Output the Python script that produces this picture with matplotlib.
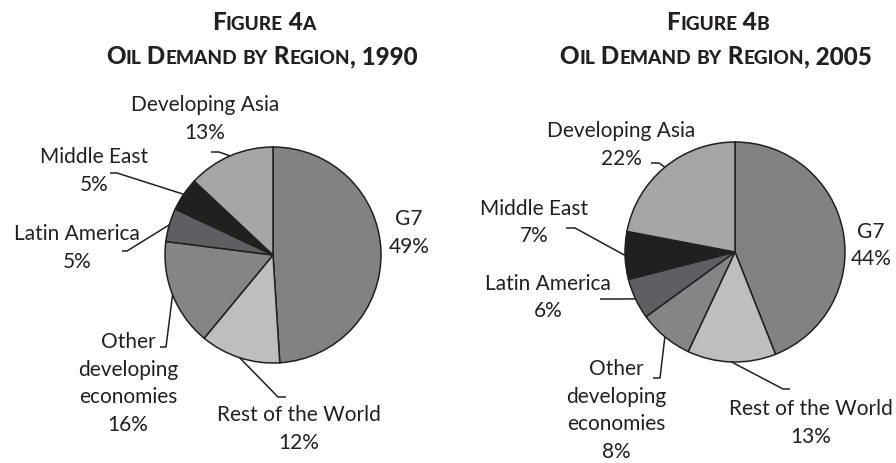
import matplotlib
matplotlib.use("Agg")
import matplotlib.pyplot as plt
import numpy as np
from matplotlib.transforms import IdentityTransform

W, H = 896, 463
DPI = 100

# ---------------- data ----------------
categories = ["G7", "Rest of the World", "Other developing economies",
              "Latin America", "Middle East", "Developing Asia"]
label_names = ["G7", "Rest of the World", "Other\ndeveloping\neconomies",
               "Latin America", "Middle East", "Developing Asia"]
share_1990 = [49, 12, 16, 5, 5, 13]
share_2005 = [44, 13, 8, 6, 7, 22]
titles = [("Figure 4a", "Oil Demand by Region, 1990"),
          ("Figure 4b", "Oil Demand by Region, 2005")]

# ---------------- style / layout ----------------
colors = ["#818284", "#bdbec0", "#848587", "#5e5f62", "#221f1f", "#a5a6a8"]
INK = "#231f20"
LABEL_FONT = ["Lato", "DejaVu Sans"]
TITLE_FONT = ["Lato", "DejaVu Sans"]
LABEL_SIZE = 15
TITLE_SIZE = 17.5

# pixel layout (y measured downward from top of the image)
pies = [
    dict(values=share_1990, center=(273, 255), radius=108, title_x=262,
         labels=[(409, 233), (299, 429), (128, 383.5), (77, 248), (94, 171), (205, 119)],
         leaders=[None,
                  [(278, 397), (286, 397)],
                  [(166, 347), (160, 347)],
                  [(127, 251), (122, 251)],
                  [(117, 173), (110, 173)],
                  [(219, 152), (211, 152)]]),
    dict(values=share_2005, center=(735, 252), radius=110, title_x=716,
         labels=[(871, 245.5), (811, 423), (616, 410.5), (548, 297.5), (534, 222.5), (621, 145)],
         leaders=[None,
                  [(783, 389), (790, 389)],
                  [(660, 378), (653, 378)],
                  [(620, 299), (600, 299)],
                  [(575, 228), (566, 228)],
                  [(659, 163), (651, 163)]]),
]

fig = plt.figure(figsize=(W / DPI, H / DPI), dpi=DPI)
ax = fig.add_axes([0, 0, 1, 1])
renderer = fig.canvas.get_renderer()


def measure(s, size, **kw):
    t = fig.text(0, 0, "|" + s + "|", fontsize=size, transform=IdentityTransform(), **kw)
    t2 = fig.text(0, 0, "||", fontsize=size, transform=IdentityTransform(), **kw)
    w = t.get_window_extent(renderer).width - t2.get_window_extent(renderer).width
    t.remove(); t2.remove()
    return w


def smallcaps(text, xc, y_base_px, size, ratio=0.78, **kw):
    runs = []
    for ch in text:
        small = ch.islower()
        if runs and runs[-1][1] == small:
            runs[-1][0] += ch.upper()
        else:
            runs.append([ch.upper(), small])
    sizes = [size * (ratio if sm else 1.0) for _, sm in runs]
    widths = [measure(s, sz, **kw) for (s, _), sz in zip(runs, sizes)]
    x = xc - sum(widths) / 2.0
    y = H - y_base_px
    for (s, _), sz, w in zip(runs, sizes, widths):
        fig.text(x, y, s, fontsize=sz, transform=IdentityTransform(),
                 ha="left", va="baseline", **kw)
        x += w


for p, (t1, t2) in zip(pies, titles):
    cx, cy = p["center"]
    wedges, _ = ax.pie(p["values"], colors=colors, startangle=90, counterclock=False,
                       center=(cx, H - cy), radius=p["radius"], frame=True,
                       wedgeprops=dict(edgecolor=INK, linewidth=1.1))
    for i, (w, name, val) in enumerate(zip(wedges, label_names, p["values"])):
        lx, ly = p["labels"][i]
        ax.text(lx, H - ly, f"{name}\n{val}%", ha="center", va="center",
                multialignment="center", fontsize=LABEL_SIZE, color=INK,
                family=LABEL_FONT, linespacing=1.47)
        if p["leaders"][i] is not None:
            mid = np.deg2rad((w.theta1 + w.theta2) / 2.0)
            ex = w.center[0] + w.r * np.cos(mid)
            ey = w.center[1] + w.r * np.sin(mid)
            xs = [ex] + [q[0] for q in p["leaders"][i]]
            ys = [ey] + [H - q[1] for q in p["leaders"][i]]
            ax.plot(xs, ys, color=INK, lw=1.1, solid_capstyle="butt")
    smallcaps(t1, p["title_x"] + 2, 30, TITLE_SIZE, color=INK, family=TITLE_FONT, weight="black")
    smallcaps(t2, p["title_x"], 64, TITLE_SIZE, color=INK, family=TITLE_FONT, weight="black")

ax.set_xlim(0, W)
ax.set_ylim(0, H)
ax.set_aspect("equal")
ax.axis("off")

fig.savefig("out.png", dpi=DPI, facecolor="white")
